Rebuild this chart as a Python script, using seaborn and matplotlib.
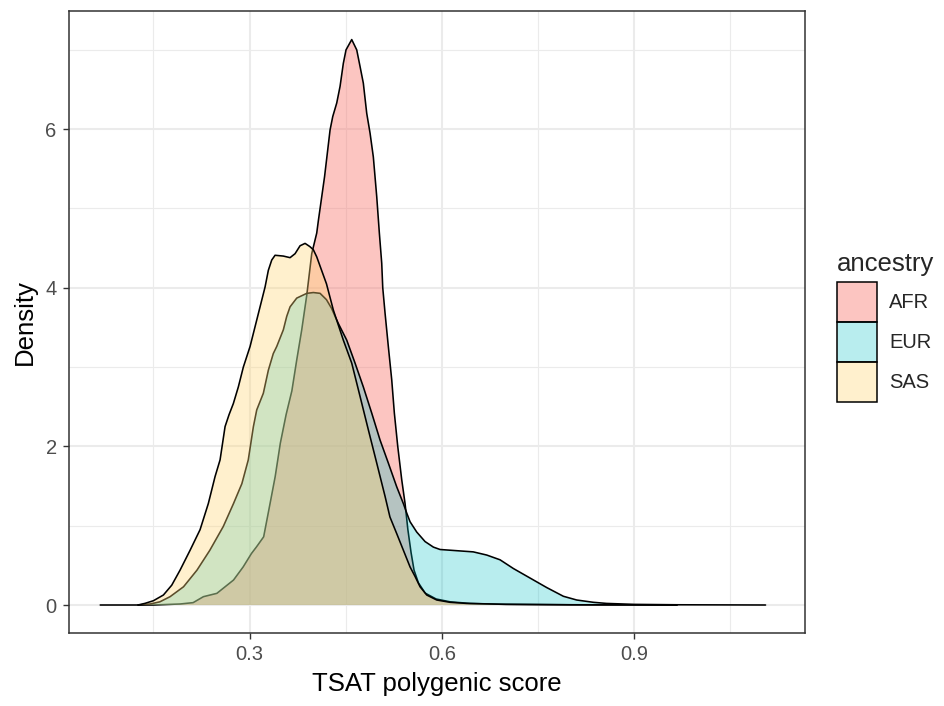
import matplotlib
matplotlib.use("Agg")
import matplotlib.pyplot as plt
from matplotlib.colors import to_rgba
from matplotlib.patches import Patch
import seaborn as sns
import pandas as pd

# Density estimates of the TSAT polygenic score for each ancestry group
ancestry = ["AFR", "EUR", "SAS"]

afr_x = [0.067, 0.150, 0.192, 0.212, 0.228, 0.249, 0.275, 0.290, 0.303, 0.311,
         0.322, 0.332, 0.340, 0.348, 0.357, 0.366, 0.3736, 0.3814, 0.3893, 0.397,
         0.4048, 0.4074, 0.417, 0.4256, 0.4298, 0.436, 0.4412, 0.4463, 0.4505, 0.4594,
         0.4672, 0.4724, 0.4775, 0.4828, 0.488, 0.4931, 0.4984, 0.5025, 0.5062, 0.5078,
         0.5114, 0.5165, 0.5218, 0.5259, 0.5312, 0.5374, 0.5426, 0.547, 0.552, 0.5566,
         0.5634, 0.574, 0.591, 0.613, 0.644, 0.690, 0.800, 0.967]
afr_y = [0.0, 0.0, 0.013, 0.03, 0.105, 0.147, 0.315, 0.48, 0.65, 0.735,
         0.86, 1.28, 1.62, 2.04, 2.40, 2.70, 3.09, 3.47, 3.91, 4.43,
         4.69, 4.85, 5.40, 5.99, 6.16, 6.33, 6.54, 6.83, 7.00, 7.13,
         7.00, 6.79, 6.58, 6.20, 5.95, 5.65, 5.15, 4.69, 4.31, 4.00,
         3.68, 3.26, 2.84, 2.42, 2.00, 1.58, 1.28, 0.95, 0.66, 0.44,
         0.28, 0.15, 0.076, 0.04, 0.02, 0.01, 0.003, 0.0]

eur_x = [0.126, 0.145, 0.160, 0.176, 0.197, 0.218, 0.238, 0.259, 0.275, 0.288,
         0.298, 0.306, 0.3112, 0.3215, 0.3293, 0.337, 0.3424, 0.3527, 0.358, 0.3632,
         0.3736, 0.3893, 0.3995, 0.410, 0.420, 0.428, 0.4334, 0.4385, 0.4516, 0.4646,
         0.4775, 0.4906, 0.5036, 0.5165, 0.5296, 0.5399, 0.5452, 0.5504, 0.5608, 0.5738,
         0.5868, 0.5972, 0.623, 0.649, 0.670, 0.6908, 0.7116, 0.7376, 0.7636, 0.7896,
         0.8104, 0.8364, 0.857, 0.900, 0.967, 1.105]
eur_y = [0.0, 0.013, 0.04, 0.105, 0.23, 0.44, 0.69, 0.99, 1.28, 1.53,
         1.83, 2.25, 2.46, 2.67, 2.96, 3.17, 3.26, 3.47, 3.64, 3.76,
         3.87, 3.93, 3.94, 3.93, 3.85, 3.74, 3.64, 3.55, 3.34, 3.05,
         2.75, 2.42, 2.08, 1.79, 1.49, 1.28, 1.16, 1.05, 0.92, 0.80,
         0.73, 0.70, 0.685, 0.67, 0.63, 0.57, 0.46, 0.34, 0.22, 0.11,
         0.063, 0.034, 0.02, 0.008, 0.003, 0.0]

sas_x = [0.126, 0.137, 0.150, 0.1656, 0.1786, 0.1916, 0.2072, 0.2228, 0.2357, 0.2462,
         0.254, 0.2618, 0.268, 0.2747, 0.2825, 0.2903, 0.3008, 0.3086, 0.3164, 0.3242,
         0.3293, 0.3346, 0.3398, 0.3527, 0.3632, 0.371, 0.3788, 0.3866, 0.394, 0.3995,
         0.4048, 0.420, 0.4307, 0.4463, 0.4594, 0.4724, 0.4853, 0.4984, 0.5114, 0.519,
         0.5296, 0.540, 0.5504, 0.5582, 0.566, 0.5764, 0.592, 0.6128, 0.6388, 0.700,
         0.800, 0.967]
sas_y = [0.0, 0.021, 0.054, 0.126, 0.25, 0.44, 0.69, 0.95, 1.28, 1.62,
         1.83, 2.25, 2.40, 2.54, 2.75, 3.00, 3.26, 3.51, 3.76, 4.01,
         4.22, 4.35, 4.41, 4.40, 4.38, 4.43, 4.53, 4.56, 4.52, 4.48,
         4.39, 4.05, 3.72, 3.34, 3.05, 2.63, 2.21, 1.79, 1.37, 1.11,
         0.90, 0.69, 0.48, 0.36, 0.23, 0.126, 0.063, 0.034, 0.02, 0.008,
         0.003, 0.0]

x_ticks = [0.3, 0.6, 0.9]
y_ticks = [0, 2, 4, 6]

fills = {
    "AFR": to_rgba("#F8766D", 0.42),
    "EUR": to_rgba("#00BFC4", 0.28),
    "SAS": to_rgba("#FFD676", 0.36),
}

frames = []
for name, xs, ys in [("AFR", afr_x, afr_y), ("EUR", eur_x, eur_y), ("SAS", sas_x, sas_y)]:
    frames.append(pd.DataFrame({"score": xs, "density": ys, "ancestry": name}))
df = pd.concat(frames, ignore_index=True)

sns.set_style("white")
plt.rcParams["font.family"] = ["Liberation Sans", "DejaVu Sans"]

fig = plt.figure(figsize=(9.44, 7.06), dpi=100)
ax = fig.add_axes([0.0726, 0.1034, 0.7802, 0.881])

# grid in the style of theme_bw
for v in [0.15, 0.45, 0.75, 1.05]:
    ax.axvline(v, color="#EBEBEB", lw=0.8, zorder=0)
for v in [1, 3, 5, 7]:
    ax.axhline(v, color="#EBEBEB", lw=0.8, zorder=0)
for v in x_ticks:
    ax.axvline(v, color="#EBEBEB", lw=1.5, zorder=0)
for v in y_ticks:
    ax.axhline(v, color="#EBEBEB", lw=1.5, zorder=0)

z = 2
for name in ancestry:
    sub = df[df["ancestry"] == name]
    ax.fill_between(sub["score"], 0, sub["density"], facecolor=fills[name],
                    edgecolor="none", zorder=z)
    sns.lineplot(data=sub, x="score", y="density", ax=ax, color="black",
                 lw=1.15, zorder=z + 1, sort=True, estimator=None)
    z += 2

ax.set_xlim(0.0176, 1.1666)
ax.set_ylim(-0.353, 7.49)
ax.set_xticks(x_ticks)
ax.set_xticklabels([f"{v:.1f}" for v in x_ticks])
ax.set_yticks(y_ticks)
ax.set_yticklabels([str(v) for v in y_ticks])

ax.tick_params(axis="both", which="both", length=4.5, width=1.0, color="#333333",
               labelcolor="#4D4D4D", labelsize=14.5, pad=4)
ax.tick_params(axis="x", bottom=True)
ax.tick_params(axis="y", left=True)
for sp in ax.spines.values():
    sp.set_visible(True)
    sp.set_color("#333333")
    sp.set_linewidth(1.1)

ax.set_xlabel("TSAT polygenic score", fontsize=18.5, color="black", labelpad=6)
ax.set_ylabel("Density", fontsize=18.5, color="black", labelpad=6)

handles = [Patch(facecolor=fills[n], edgecolor="black", lw=1.1, label=n) for n in ancestry]
leg = fig.legend(handles=handles, title="ancestry", loc="upper left",
                 bbox_to_anchor=(837 / 944, 1 - 252 / 706), frameon=False,
                 fontsize=14.5, title_fontsize=18.5, handlelength=2.0,
                 handleheight=2.68, labelspacing=0.0, handletextpad=0.6,
                 borderpad=0.0, borderaxespad=0.0, alignment="left")
leg._legend_box.sep = 4

fig.savefig("out.png", dpi=100)
